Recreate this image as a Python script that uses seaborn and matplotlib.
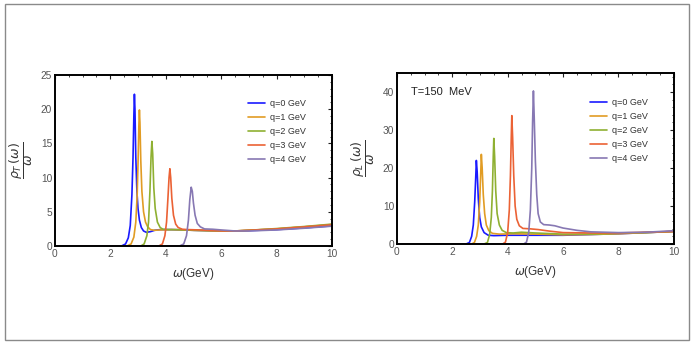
import numpy as np
import pandas as pd
import matplotlib
matplotlib.use("Agg")
import matplotlib.pyplot as plt
from matplotlib.patches import Rectangle
from matplotlib.ticker import MultipleLocator
import seaborn as sns

sns.set_style("white")
plt.rcParams['font.family'] = ['Liberation Sans', 'DejaVu Sans']
plt.rcParams['mathtext.fontset'] = 'dejavusans'

labels = ["q=0 GeV", "q=1 GeV", "q=2 GeV", "q=3 GeV", "q=4 GeV"]
colors = ["#1a1aff", "#e19c24", "#8fb032", "#eb6235", "#8778b3"]

# Left panel: rho_T / omega
T_w0 = [0, 2.4, 2.55, 2.65, 2.72, 2.78, 2.82, 2.85, 2.87, 2.89, 2.92, 2.96, 3.0, 3.05, 3.12, 3.2, 3.3, 3.45, 3.6, 3.8, 4.2, 5, 6, 6.5, 7, 8, 9, 10]
T_v0 = [0, 0, 0.3, 1.2, 3.0, 7.5, 13, 19, 22.2, 20, 13, 8, 5.5, 3.8, 2.7, 2.2, 2.0, 2.1, 2.3, 2.4, 2.4, 2.3, 2.2, 2.2, 2.25, 2.4, 2.65, 2.95]
T_w1 = [0, 2.6, 2.75, 2.85, 2.92, 2.97, 3.0, 3.03, 3.05, 3.07, 3.1, 3.14, 3.2, 3.27, 3.35, 3.45, 3.6, 3.8, 4.2, 5, 6, 6.5, 7, 8, 9, 10]
T_v1 = [0, 0, 0.3, 1.3, 3.5, 7.5, 12, 17.5, 19.9, 18, 12.5, 8, 5, 3.5, 2.8, 2.4, 2.3, 2.35, 2.4, 2.3, 2.2, 2.2, 2.3, 2.5, 2.8, 3.15]
T_w2 = [0, 3.1, 3.22, 3.32, 3.38, 3.43, 3.47, 3.5, 3.53, 3.57, 3.62, 3.7, 3.8, 3.9, 4.1, 4.4, 5, 6, 6.5, 7, 8, 9, 10]
T_v2 = [0, 0, 0.3, 1.5, 3.5, 8, 13, 15.3, 13.5, 8.5, 5.5, 3.5, 2.7, 2.45, 2.4, 2.4, 2.3, 2.2, 2.2, 2.3, 2.55, 2.85, 3.2]
T_w3 = [0, 3.75, 3.88, 3.97, 4.03, 4.08, 4.12, 4.15, 4.18, 4.22, 4.28, 4.36, 4.45, 4.6, 4.8, 5.2, 6, 6.5, 7, 8, 9, 10]
T_v3 = [0, 0, 0.3, 1.5, 3.5, 7, 10, 11.3, 10, 7, 4.5, 3.2, 2.7, 2.45, 2.4, 2.35, 2.2, 2.2, 2.3, 2.5, 2.8, 3.1]
T_w4 = [0, 4.5, 4.65, 4.75, 4.82, 4.87, 4.92, 4.96, 5.0, 5.06, 5.14, 5.25, 5.4, 5.7, 6, 6.5, 7, 8, 9, 10]
T_v4 = [0, 0, 0.3, 1.5, 3.8, 6.8, 8.6, 8, 6.3, 4.5, 3.3, 2.8, 2.5, 2.45, 2.35, 2.2, 2.2, 2.35, 2.6, 2.9]

# Right panel: rho_L / omega
L_w0 = [0, 2.5, 2.62, 2.7, 2.76, 2.81, 2.85, 2.87, 2.9, 2.94, 2.99, 3.05, 3.15, 3.3, 3.5, 4, 5, 6, 7, 8, 9, 10]
L_v0 = [0, 0, 0.4, 2, 5, 11, 18, 22, 19, 12, 7, 4.5, 3, 2.3, 2.2, 2.3, 2.3, 2.3, 2.5, 2.7, 3.0, 3.3]
L_w1 = [0, 2.7, 2.8, 2.88, 2.94, 2.99, 3.03, 3.05, 3.08, 3.12, 3.17, 3.23, 3.32, 3.45, 3.7, 4.2, 5, 6, 7, 8, 9, 10]
L_v1 = [0, 0, 0.4, 2, 5, 11, 19, 23.6, 20, 13, 8, 5, 3.5, 2.8, 2.6, 2.7, 2.6, 2.4, 2.5, 2.7, 3.0, 3.3]
L_w2 = [0, 3.15, 3.27, 3.35, 3.41, 3.45, 3.48, 3.5, 3.53, 3.57, 3.62, 3.7, 3.8, 3.95, 4.2, 4.5, 5, 6, 7, 8, 9, 10]
L_v2 = [0, 0, 0.4, 2.5, 7, 14, 23, 27.8, 23, 14, 8, 5, 3.6, 3, 2.9, 3.1, 2.9, 2.6, 2.6, 2.8, 3.0, 3.3]
L_w3 = [0, 3.82, 3.92, 4.0, 4.06, 4.1, 4.13, 4.15, 4.18, 4.22, 4.27, 4.33, 4.42, 4.55, 4.8, 5.1, 5.5, 6, 7, 8, 9, 10]
L_v3 = [0, 0, 0.5, 3, 9, 18, 28, 33.8, 28, 18, 10, 6.5, 4.8, 4.1, 4.0, 3.8, 3.4, 3.0, 2.9, 2.9, 3.1, 3.3]
L_w4 = [0, 4.58, 4.68, 4.76, 4.82, 4.87, 4.9, 4.93, 4.96, 5.0, 5.05, 5.1, 5.18, 5.3, 5.5, 5.7, 6, 6.5, 7, 8, 9, 10]
L_v4 = [0, 0, 0.5, 3, 9, 20, 32, 40.3, 33, 22, 13, 8, 5.8, 5.1, 5.0, 4.8, 4.2, 3.6, 3.2, 3.0, 3.1, 3.5]

left_series = [(T_w0, T_v0), (T_w1, T_v1), (T_w2, T_v2), (T_w3, T_v3), (T_w4, T_v4)]
right_series = [(L_w0, L_v0), (L_w1, L_v1), (L_w2, L_v2), (L_w3, L_v3), (L_w4, L_v4)]

fig = plt.figure(figsize=(6.95, 3.46), dpi=100)
fig.patches.append(Rectangle((0.0072, 0.017), 0.984, 0.971, transform=fig.transFigure,
                             fill=False, edgecolor='#8a8a8a', lw=1.0))

axL = fig.add_axes([0.079, 0.289, 0.3986, 0.494])
axR = fig.add_axes([0.571, 0.2948, 0.3986, 0.494])


def draw(ax, series, ymax, ymaj, ymin, ylabel, lx, ly):
    for (w, v), lab, col in zip(series, labels, colors):
        df = pd.DataFrame({"omega": w, "val": v})
        sns.lineplot(data=df, x="omega", y="val", color=col, lw=1.2, label=lab,
                     ax=ax, sort=False, estimator=None)
    ax.set_xlim(0, 10)
    ax.set_ylim(0, ymax)
    ax.xaxis.set_major_locator(MultipleLocator(2))
    ax.xaxis.set_minor_locator(MultipleLocator(0.5))
    ax.yaxis.set_major_locator(MultipleLocator(ymaj))
    ax.yaxis.set_minor_locator(MultipleLocator(ymin))
    ax.tick_params(which='both', direction='in', top=True, right=True,
                   labelsize=7.3, labelcolor='#555555', color='#222222', pad=2)
    ax.tick_params(which='major', length=3, width=0.8)
    ax.tick_params(which='minor', length=1.6, width=0.6)
    for s in ax.spines.values():
        s.set_linewidth(1.4)
        s.set_color('black')
    ax.set_xlabel(r'$\omega$(GeV)', fontsize=8.5, color='#333333', labelpad=5)
    ax.set_ylabel(ylabel, fontsize=9, color='#333333', labelpad=4)
    leg = ax.legend(loc='upper left', bbox_to_anchor=(lx, ly), frameon=False,
                    fontsize=6.5, handlelength=1.9, labelspacing=0.55,
                    handletextpad=0.5, borderaxespad=0, borderpad=0)
    for t in leg.get_texts():
        t.set_color('#333333')
    ax.grid(False)


draw(axL, left_series, 25, 5, 1, r'$\dfrac{\rho_T\,(\omega)}{\omega}$', 0.697, 0.86)
draw(axR, right_series, 45, 10, 2, r'$\dfrac{\rho_L\,(\omega)}{\omega}$', 0.697, 0.855)
axR.text(0.05, 0.87, "T=150  MeV", transform=axR.transAxes, fontsize=8, color='#222222')

fig.savefig("out.png", dpi=100)
